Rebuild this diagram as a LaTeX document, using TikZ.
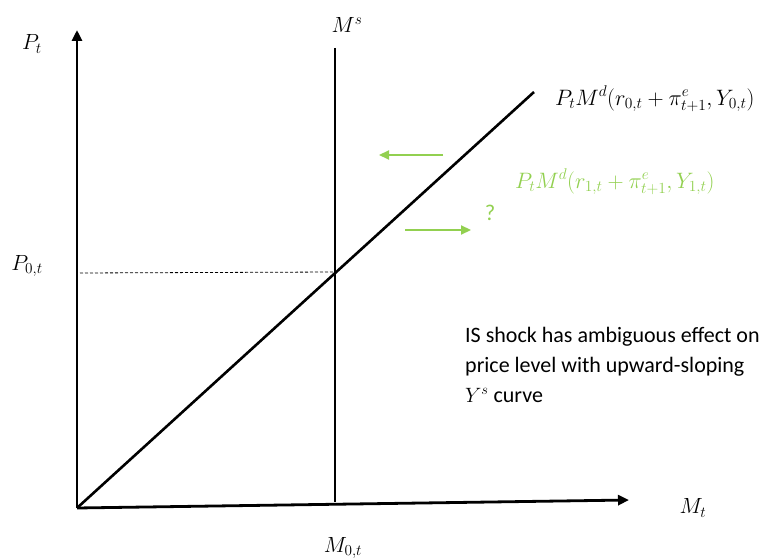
\documentclass[tikz,border=0pt]{standalone}
\usepackage{fontspec}
\setsansfont{Carlito}
\usetikzlibrary{arrows.meta}
\definecolor{lgreen}{HTML}{92D050}
\begin{document}
\begin{tikzpicture}[x=1pt,y=-1pt,
  axis/.style={line width=2.8pt,-{Triangle[length=11pt,width=10pt]}},
  curve/.style={line width=2.6pt},
  garrow/.style={lgreen,line width=2.2pt,-{Triangle[length=10pt,width=9pt]}},
  mlabel/.style={inner sep=0pt,scale=1.06,font=\fontsize{20.74}{26}\selectfont},
  dlabel/.style={inner sep=0pt,scale=1.075,font=\fontsize{20.74}{26}\selectfont},
  glabel/.style={dlabel,text=lgreen},
  note/.style={inner sep=0pt,align=left,font=\sffamily\fontsize{22}{30}\selectfont}]
\useasboundingbox (0,0) rectangle (764,559);
% key points
\coordinate (O) at (77,508);
\coordinate (ytop) at (77,30);
\coordinate (xend) at (629,500);
\coordinate (mstop) at (335,48);
\coordinate (msbot) at (335,502);
\coordinate (dtop) at (534,92);
\coordinate (dleft) at (80,273);
\coordinate (dright) at (335,272);
\coordinate (gl1) at (443,155);
\coordinate (gl2) at (379,155);
\coordinate (gr1) at (405,230);
\coordinate (gr2) at (471,230);
% lines
\draw[curve] (mstop) -- (msbot);
\draw[curve] (O) -- (dtop);
\draw[dashed,line width=0.8pt,dash pattern=on 3pt off 2pt] (dleft) -- (dright);
\draw[axis] (O) -- (ytop);
\draw[axis] (O) -- (xend);
\draw[garrow] (gl1) -- (gl2);
\draw[garrow] (gr1) -- (gr2);
% labels
\node[mlabel] (pt) at (32,44) {$P_t$};
\node[mlabel] (ms) at (347,25) {$M^s$};
\node[mlabel] (p0) at (27,266) {$P_{0,t}$};
\node[mlabel] (mt) at (693,508) {$M_t$};
\node[mlabel] (m0) at (343,548) {$M_{0,t}$};
\node[dlabel,anchor=west] (md0) at (555,99) {$P_tM^d(r_{0,t}+\pi^e_{t+1},Y_{0,t})$};
\node[glabel,anchor=west] (md1) at (515,182) {$P_tM^d(r_{1,t}+\pi^e_{t+1},Y_{1,t})$};
\node[glabel,scale=1,font=\sffamily\fontsize{21}{24}\selectfont] (q) at (490,213) {?};
\node[note,anchor=north west] (txt) at (465,327) {IS shock has ambiguous effect on\\price level with upward-sloping\\$Y^s$ curve};
\end{tikzpicture}
\end{document}
